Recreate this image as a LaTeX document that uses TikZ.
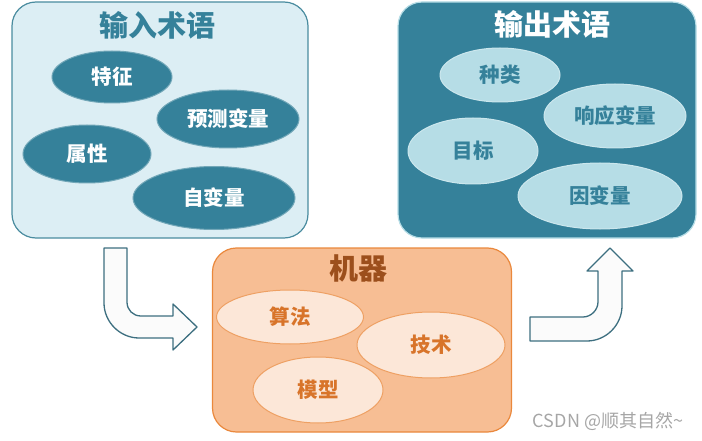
\documentclass[tikz,border=0pt]{standalone}
\usepackage{fontspec}
\usepackage{tikz}
\usetikzlibrary{shapes.geometric,positioning}
\newfontfamily\cjk{Noto Sans CJK SC}
\definecolor{tealdark}{HTML}{35819A}
\definecolor{teallight}{HTML}{DCEEF4}
\definecolor{tealpale}{HTML}{B6DDE6}
\definecolor{tealline}{HTML}{4A8C9F}
\definecolor{orangebox}{HTML}{F7BE94}
\definecolor{orangeline}{HTML}{EA883C}
\definecolor{orangepale}{HTML}{FCE7D8}
\definecolor{orangetext}{HTML}{D8742A}
\definecolor{browntext}{HTML}{9C4F1C}
\definecolor{arrowline}{HTML}{3D6F80}
\tikzset{
    termbox/.style={
        rounded corners=24pt,
        line width=1.2pt,
        inner sep=0pt
    },
    boxtitle/.style={
        font=\cjk\bfseries\fontsize{29}{29}\selectfont,
        inner sep=0pt
    },
    blob/.style={
        ellipse,
        inner sep=0pt,
        font=\cjk\bfseries\fontsize{20.5}{20.5}\selectfont
    },
    inblob/.style={blob, fill=tealdark, draw=tealdark!70!white, line width=1pt, text=white},
    outblob/.style={blob, fill=tealpale, draw=tealpale!70!white, line width=1pt, text=tealdark},
    machblob/.style={blob, fill=orangepale, draw=orangeline!80!white, line width=1pt, text=orangetext},
    bigarrow/.style={draw=arrowline, fill=gray!3, line width=1.3pt, line join=round}
}

\begin{document}
\begin{tikzpicture}[x=1pt, y=-1pt]
    \useasboundingbox (0,0) rectangle (702,441);

    % input terms
    \node[termbox, draw=tealline, fill=teallight, minimum width=296pt, minimum height=236pt] (inbox) at (160,120) {};
    \node[boxtitle, text=tealdark] (intitle) at (157,25) {输入术语};
    \node[inblob, minimum width=120pt, minimum height=52pt] (feature) at (112,77) {特征};
    \node[inblob, minimum width=142pt, minimum height=58pt] (predictor) at (228,119) {预测变量};
    \node[inblob, minimum width=128pt, minimum height=58pt] (attribute) at (87,154) {属性};
    \node[inblob, minimum width=162pt, minimum height=63pt] (indep) at (214,198) {自变量};

    % output terms
    \node[termbox, draw=tealpale, fill=tealdark, minimum width=298pt, minimum height=236pt] (outbox) at (547,120) {};
    \node[boxtitle, text=white] (outtitle) at (552,24) {输出术语};
    \node[outblob, minimum width=120pt, minimum height=54pt] (category) at (500,75) {种类};
    \node[outblob, minimum width=142pt, minimum height=64pt] (response) at (615,116) {响应变量};
    \node[outblob, minimum width=130pt, minimum height=66pt] (target) at (473,151) {目标};
    \node[outblob, minimum width=164pt, minimum height=66pt] (dep) at (600,196) {因变量};

    % machine
    \node[termbox, draw=orangeline, fill=orangebox, minimum width=299pt, minimum height=184pt] (machbox) at (362,340) {};
    \node[boxtitle, text=browntext] (machtitle) at (358,268) {机器};
    \node[machblob, minimum width=147pt, minimum height=54pt] (algo) at (290,317) {算法};
    \node[machblob, minimum width=148pt, minimum height=66pt] (tech) at (431,345) {技术};
    \node[machblob, minimum width=130pt, minimum height=66pt] (model) at (318,390) {模型};

    % block arrows
    \draw[bigarrow] (104,248) -- (104,303) .. controls (104,322) and (120,338) .. (139,338)
        -- (173,338) -- (173,350) -- (197,327) -- (173,304) -- (173,316) -- (141,316)
        .. controls (133,316) and (127,310) .. (127,302) -- (127,248) -- cycle;
    \draw[bigarrow] (530,317) -- (583,317) .. controls (591,317) and (598,310) .. (598,302)
        -- (598,271) -- (587,271) -- (610,248) -- (633,271) -- (622,271) -- (622,306)
        .. controls (622,325) and (606,341) .. (587,341) -- (530,341) -- cycle;

    \node[font=\cjk\fontsize{18}{18}\selectfont, text=gray!70, inner sep=0pt] (mark) at (608,421) {CSDN @顺其自然\textasciitilde};
\end{tikzpicture}
\end{document}
